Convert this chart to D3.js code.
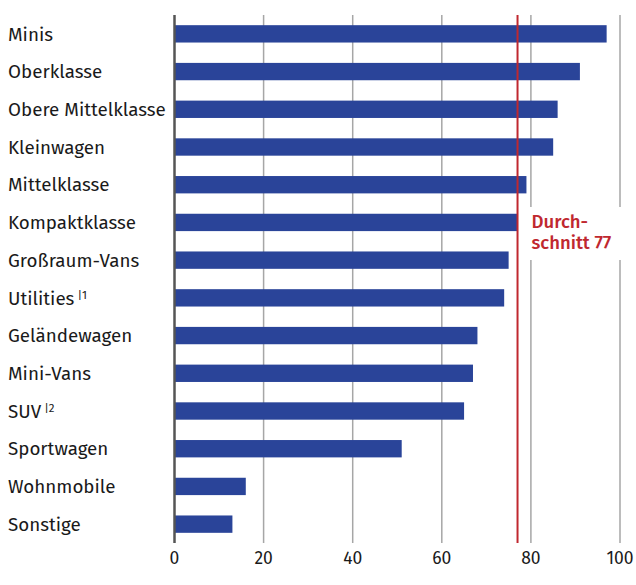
<!DOCTYPE html>
<html>
<head>
<meta charset="utf-8">
<script src="https://cdn.jsdelivr.net/npm/d3@7"></script>
<style>
body { margin: 0; background: #fff; }
text { font-family: "Fira Sans", "Noto Sans", sans-serif; }
</style>
</head>
<body>
<script>
// data
var categories = ["Minis", "Oberklasse", "Obere Mittelklasse", "Kleinwagen", "Mittelklasse",
	"Kompaktklasse", "Großraum-Vans", "Utilities", "Geländewagen", "Mini-Vans", "SUV",
	"Sportwagen", "Wohnmobile", "Sonstige"];
var values = [97, 91, 86, 85, 79, 77, 75, 74, 68, 67, 65, 51, 16, 13];
var footnotes = ["", "", "", "", "", "", "", "1", "", "", "2", "", "", ""];
var ticks = [0, 20, 40, 60, 80, 100];
var average = 77;
var averageLabel = ["Durch-", "schnitt 77"];

var width = 636, height = 585;
var margin = {top: 15, right: 16, bottom: 42, left: 174.5};

var svg = d3.select("body").append("svg")
	.attr("width", width)
	.attr("height", height);

var x = d3.scaleLinear()
	.domain([0, 100])
	.range([margin.left, width - margin.right]);

var y = d3.scaleBand()
	.domain(categories)
	.range([margin.top, height - margin.bottom])
	.paddingInner(0.54)
	.paddingOuter(0.27);

// gridlines
svg.append("g").selectAll("line")
	.data(ticks.slice(1))
	.enter().append("line")
	.attr("x1", function(d){ return x(d); })
	.attr("x2", function(d){ return x(d); })
	.attr("y1", margin.top)
	.attr("y2", height - margin.bottom)
	.attr("stroke", "#a6a6a6")
	.attr("stroke-width", 1.5);

// bars
svg.append("g").selectAll("rect")
	.data(values)
	.enter().append("rect")
	.attr("x", x(0))
	.attr("y", function(d, i){ return y(categories[i]); })
	.attr("width", function(d){ return x(d) - x(0); })
	.attr("height", y.bandwidth())
	.attr("fill", "#2a4499");

// zero axis
svg.append("line")
	.attr("x1", x(0)).attr("x2", x(0))
	.attr("y1", margin.top).attr("y2", height - margin.bottom)
	.attr("stroke", "#555")
	.attr("stroke-width", 2.5);

// category labels
var lab = svg.append("g").selectAll("text")
	.data(categories)
	.enter().append("text")
	.attr("x", 8)
	.attr("y", function(d){ return y(d) + y.bandwidth() / 2; })
	.attr("dy", "0.36em")
	.attr("font-size", 18.8)
	.attr("fill", "#1a1a1a");
lab.append("tspan").text(function(d){ return d; });
lab.filter(function(d, i){ return footnotes[i] !== ""; })
	.append("tspan")
	.attr("dx", 3)
	.attr("dy", -6)
	.attr("font-size", 11.5)
	.text(function(d){ return "|" + footnotes[categories.indexOf(d)]; });

// tick labels
svg.append("g").selectAll("text")
	.data(ticks)
	.enter().append("text")
	.attr("x", function(d){ return x(d); })
	.attr("y", height - 21)
	.attr("text-anchor", "middle")
	.attr("font-size", 17.5)
	.attr("fill", "#1a1a1a")
	.text(function(d){ return d; });

// average line + label
svg.append("rect")
	.attr("x", x(average) + 2)
	.attr("y", 207)
	.attr("width", x(100) - x(average) + 6)
	.attr("height", 53)
	.attr("fill", "#fff");

svg.append("line")
	.attr("x1", x(average)).attr("x2", x(average))
	.attr("y1", margin.top).attr("y2", height - margin.bottom)
	.attr("stroke", "#c0282f")
	.attr("stroke-width", 2);

svg.append("g").selectAll("text")
	.data(averageLabel)
	.enter().append("text")
	.attr("x", x(average) + 14)
	.attr("y", function(d, i){ return 228 + i * 21; })
	.attr("font-size", 18.5)
	.attr("font-weight", 500)
	.attr("fill", "#c0282f")
	.text(function(d){ return d; });
</script>
</body>
</html>
